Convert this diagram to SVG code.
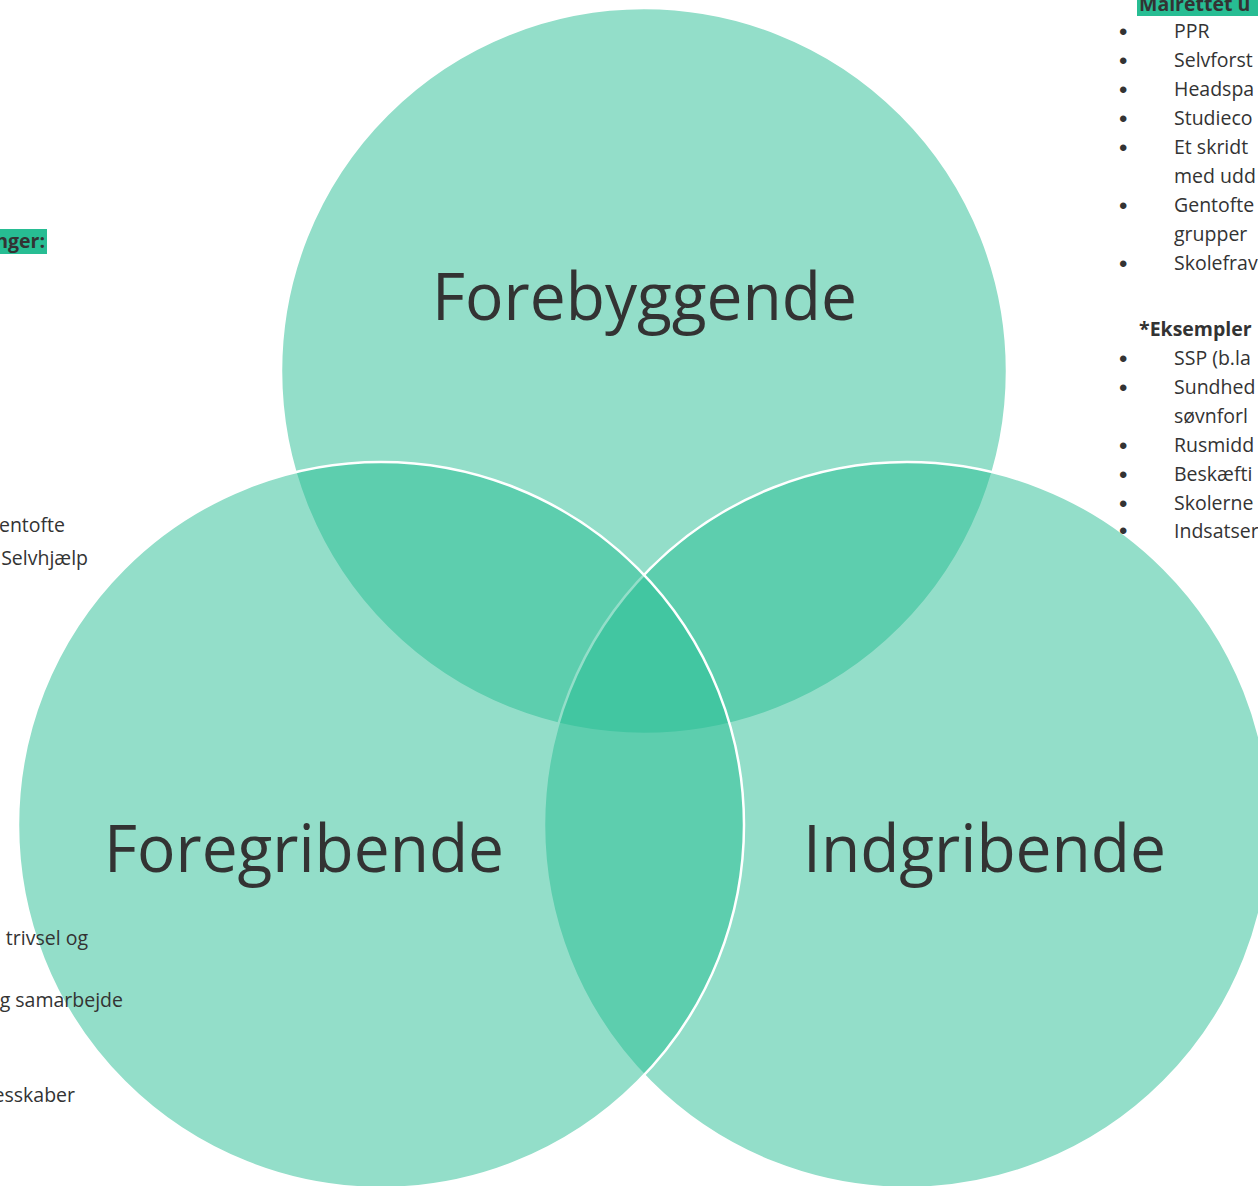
<svg xmlns="http://www.w3.org/2000/svg" width="1258" height="1186" viewBox="0 0 1258 1186">
<style>
.c{fill:#27bd93;fill-opacity:0.5;stroke:#fff;stroke-width:2.5}
.t{font-family:"Open Sans","Noto Sans",sans-serif;font-size:19.5px;fill:#333}
.bu{font-family:"Liberation Sans",sans-serif;font-size:24px;fill:#333}
.b{font-weight:bold}
.big{font-family:"Open Sans","Noto Sans",sans-serif;font-size:66px;fill:#333}
.hl{fill:#27bd93}
</style>
<rect width="1258" height="1186" fill="#fff"/>
<g id="sidetext-left">
<rect class="hl" x="0" y="229" width="47" height="25"/>
<text class="t b" x="45" y="248" text-anchor="end">nger:</text>
<text class="t" x="65" y="532" text-anchor="end">entofte</text>
<text class="t" x="88" y="565" text-anchor="end">Selvhjælp</text>
</g>
<g id="circles">
<circle id="forebyggende-circle" class="c" cx="644" cy="371" r="363"/>
<circle id="indgribende-circle" class="c" cx="907" cy="825" r="363"/>
<circle id="foregribende-circle" class="c" cx="381" cy="825" r="363"/>
</g>
<g id="sidetext-right">
<rect class="hl" x="1137" y="0" width="121" height="16"/>
<text class="t b" x="1139" y="11">Målrettet u</text>
<g class="bu">
<text x="1119" y="40">•</text>
<text x="1119" y="69">•</text>
<text x="1119" y="98">•</text>
<text x="1119" y="127">•</text>
<text x="1119" y="156">•</text>
<text x="1119" y="214">•</text>
<text x="1119" y="272">•</text>
<text x="1119" y="367">•</text>
<text x="1119" y="396">•</text>
<text x="1119" y="454">•</text>
<text x="1119" y="483">•</text>
<text x="1119" y="512">•</text>
<text x="1119" y="539">•</text>
</g>
<g class="t">
<text x="1174" y="38">PPR</text>
<text x="1174" y="67">Selvforst</text>
<text x="1174" y="96">Headspa</text>
<text x="1174" y="125">Studieco</text>
<text x="1174" y="154">Et skridt</text>
<text x="1174" y="183">med udd</text>
<text x="1174" y="212">Gentofte</text>
<text x="1174" y="241">grupper</text>
<text x="1174" y="270">Skolefrav</text>
<text x="1139" y="336" class="b">*Eksempler</text>
<text x="1174" y="365">SSP (b.la</text>
<text x="1174" y="394">Sundhed</text>
<text x="1174" y="423">søvnforl</text>
<text x="1174" y="452">Rusmidd</text>
<text x="1174" y="481">Beskæfti</text>
<text x="1174" y="510">Skolerne</text>
<text x="1174" y="538">Indsatser</text>
</g>
</g>
<g id="sidetext-left-bottom">
<text class="t" x="88" y="945" text-anchor="end">trivsel og</text>
<text class="t" x="123" y="1007" text-anchor="end">g samarbejde</text>
<text class="t" x="75" y="1102" text-anchor="end">esskaber</text>
</g>
<g id="node-forebyggende"><text class="big" x="432" y="320" textLength="425" lengthAdjust="spacingAndGlyphs">Forebyggende</text></g>
<g id="node-foregribende"><text class="big" x="104" y="872" textLength="400" lengthAdjust="spacingAndGlyphs">Foregribende</text></g>
<g id="node-indgribende"><text class="big" x="803" y="872" textLength="363" lengthAdjust="spacingAndGlyphs">Indgribende</text></g>
<g id="connectors"></g>
</svg>
